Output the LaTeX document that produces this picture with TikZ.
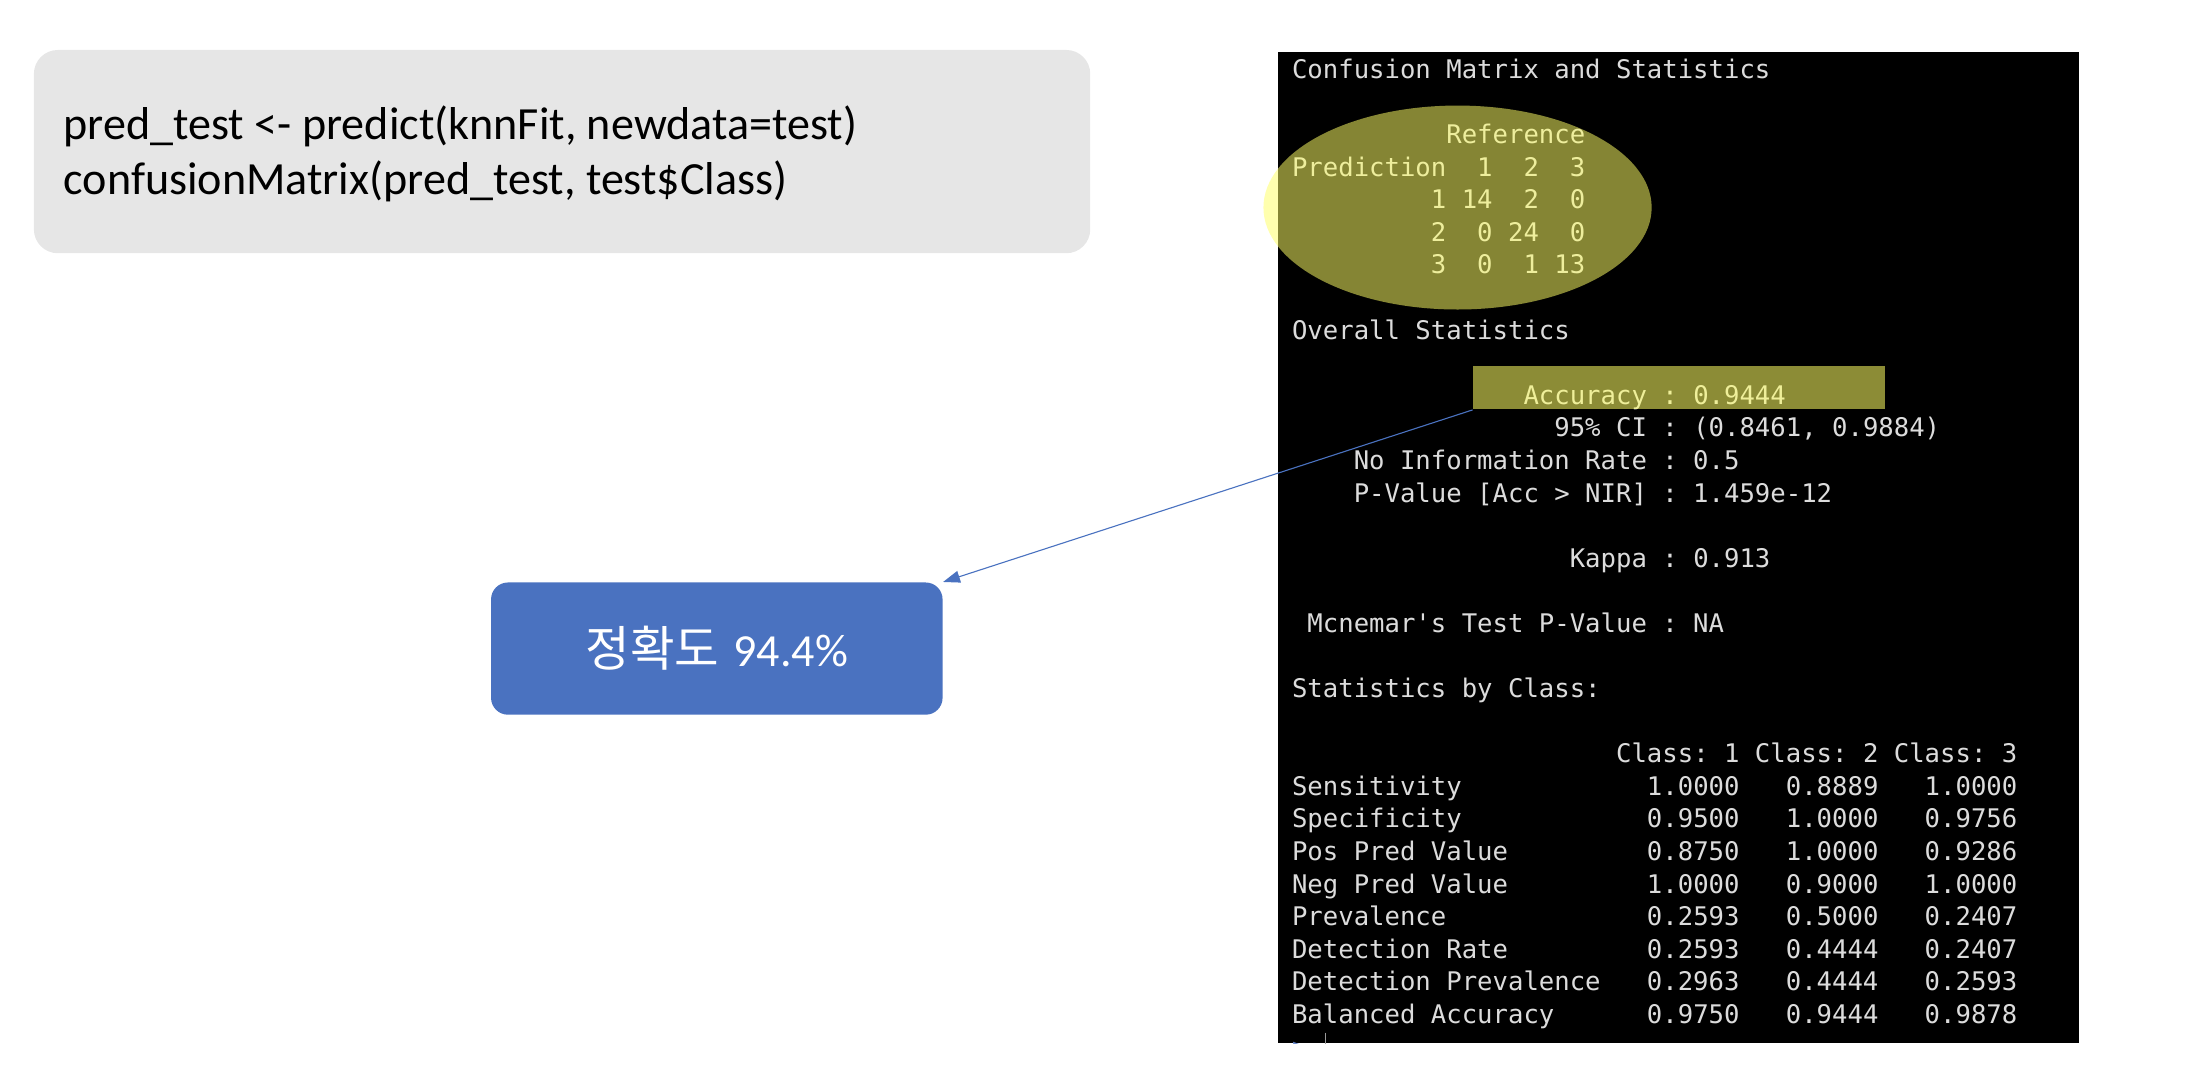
\documentclass[tikz,border=0pt]{standalone}
\usepackage{fontspec}
\setmainfont{Carlito}
\setmonofont{DejaVu Sans Mono}
\newfontfamily\krfont{Noto Sans CJK KR}
\usetikzlibrary{arrows.meta}
\definecolor{codegray}{HTML}{E6E6E6}
\definecolor{accblue}{HTML}{4A72C0}
\definecolor{termgray}{HTML}{DCDCDC}
\definecolor{hilite}{RGB}{255,255,100}
\definecolor{promptblue}{HTML}{6A8ACD}
\tikzset{
  termtxt/.style={anchor=base west, inner sep=0pt, text=termgray,
    font=\ttfamily\fontsize{10.37}{12}\selectfont},
  codetxt/.style={anchor=base west, inner sep=0pt, text=black,
    font=\fontsize{18.65}{20}\selectfont},
  codebox/.style={fill=codegray, draw=none, rounded corners=0.34cm,
    minimum width=15.02cm, minimum height=2.89cm, inner sep=0pt},
  resbox/.style={fill=accblue, draw=none, rounded corners=0.24cm,
    minimum width=6.42cm, minimum height=1.88cm, inner sep=0pt, text=white},
  termbox/.style={fill=black, draw=none, minimum width=11.39cm,
    minimum height=14.09cm, inner sep=0pt},
  accbox/.style={fill=hilite, fill opacity=0.55, draw=none,
    minimum width=5.86cm, minimum height=0.62cm, inner sep=0pt},
  link/.style={draw=accblue, line width=0.45pt,
    -{Triangle[length=0.24cm, width=0.17cm]}},
}
\newcommand\termline[2]{\node[termtxt] (r#1) at (918,{55.6+23.17*#1}) {#2};}
\begin{document}
\begin{tikzpicture}[x=0.02cm, y=-0.02cm]
\useasboundingbox (0,0) rectangle (1568,757.7);
% code box
\node[codebox] (code) at (399.5,107.75) {};
\node[codetxt] (l1) at (44.9,99.5) {pred\_test <- predict(knnFit, newdata=test)};
\node[codetxt] (l2) at (44.9,138) {confusionMatrix(pred\_test, test\$Class)};
% result box
\node[resbox] (res) at (509.5,461) {{\krfont\fontsize{19.6}{20}\selectfont 정확도}\hspace{0.2cm}{\fontsize{18.6}{20}\selectfont 94.4\%}};
% terminal
\node[termbox] (term) at (1192.8,389.25) {};
\termline{0}{Confusion~Matrix~and~Statistics}
\termline{2}{~~~~~~~~~~Reference}
\termline{3}{Prediction~~1~~2~~3}
\termline{4}{~~~~~~~~~1~14~~2~~0}
\termline{5}{~~~~~~~~~2~~0~24~~0}
\termline{6}{~~~~~~~~~3~~0~~1~13}
\termline{8}{Overall~Statistics}
\termline{10}{~~~~~~~~~~~~~~~Accuracy~:~0.9444}
\termline{11}{~~~~~~~~~~~~~~~~~95\%~CI~:~(0.8461,~0.9884)}
\termline{12}{~~~~No~Information~Rate~:~0.5}
\termline{13}{~~~~P-Value~[Acc~>~NIR]~:~1.459e-12}
\termline{15}{~~~~~~~~~~~~~~~~~~Kappa~:~0.913}
\termline{17}{~Mcnemar's~Test~P-Value~:~NA}
\termline{19}{Statistics~by~Class:}
\termline{21}{~~~~~~~~~~~~~~~~~~~~~Class:~1~Class:~2~Class:~3}
\termline{22}{Sensitivity~~~~~~~~~~~~1.0000~~~0.8889~~~1.0000}
\termline{23}{Specificity~~~~~~~~~~~~0.9500~~~1.0000~~~0.9756}
\termline{24}{Pos~Pred~Value~~~~~~~~~0.8750~~~1.0000~~~0.9286}
\termline{25}{Neg~Pred~Value~~~~~~~~~1.0000~~~0.9000~~~1.0000}
\termline{26}{Prevalence~~~~~~~~~~~~~0.2593~~~0.5000~~~0.2407}
\termline{27}{Detection~Rate~~~~~~~~~0.2593~~~0.4444~~~0.2407}
\termline{28}{Detection~Prevalence~~~0.2963~~~0.4444~~~0.2593}
\termline{29}{Balanced~Accuracy~~~~~~0.9750~~~0.9444~~~0.9878}
\begin{scope}
  \clip (908,37) rectangle (1477.6,741.5);
  \node[termtxt, text=promptblue] (prompt) at (918,{55.6+23.17*30}) {>};
  \draw[termgray!70!black, line width=0.5pt] (942,734) -- (942,742);
\end{scope}
% highlights
\fill[hilite, fill opacity=0.52] (1036,147.5) ellipse [x radius=2.76cm, y radius=1.45cm];
\node[accbox] (acc) at (1193.5,275.5) {};
% connector
\draw[link] (acc.south west) -- (res.north east);
\end{tikzpicture}
\end{document}
